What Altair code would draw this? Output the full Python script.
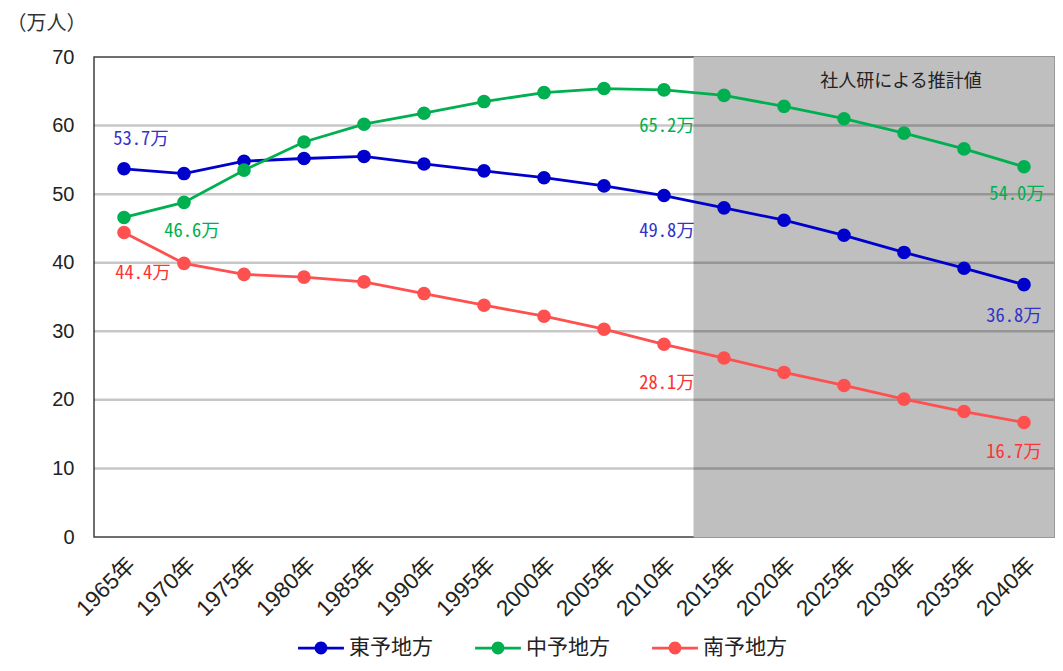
import altair as alt
import pandas as pd

years = ["1965年", "1970年", "1975年", "1980年", "1985年", "1990年", "1995年", "2000年",
         "2005年", "2010年", "2015年", "2020年", "2025年", "2030年", "2035年", "2040年"]
regions = ["東予地方", "中予地方", "南予地方"]
colors = ["#0000CC", "#00B050", "#FF5050"]
label_colors = ["#3333CC", "#00B050", "#FF3333"]

east = [53.7, 53.0, 54.8, 55.2, 55.5, 54.4, 53.4, 52.4, 51.2, 49.8, 48.0, 46.2, 44.0, 41.5, 39.2, 36.8]
central = [46.6, 48.8, 53.5, 57.6, 60.2, 61.8, 63.5, 64.8, 65.4, 65.2, 64.4, 62.8, 61.0, 58.9, 56.6, 54.0]
south = [44.4, 39.9, 38.3, 37.9, 37.2, 35.5, 33.8, 32.2, 30.3, 28.1, 26.1, 24.0, 22.1, 20.1, 18.3, 16.7]

projection_years = years[10:]
grid_values = [10, 20, 30, 40, 50, 60]
annotation = "社人研による推計値"

# labelled points: (region index, year index)
labelled = [(0, 0), (1, 0), (2, 0), (1, 9), (0, 9), (2, 9), (1, 15), (0, 15), (2, 15)]
# label offsets (style)
offsets = [(17, -30), (68, 14), (19, 40), (3, 36), (3, 35), (3, 39), (-7, 27), (-10, 31), (-10, 30)]

series = [east, central, south]
rows = []
for r, vals in zip(regions, series):
    for y, v in zip(years, vals):
        rows.append({"year": y, "region": r, "value": v})
df = pd.DataFrame(rows)

W, H = 960, 480
xscale = alt.Scale(type="band", domain=years, paddingInner=0, paddingOuter=0)
yscale = alt.Scale(domain=[0, 70], nice=False)
cscale = alt.Scale(domain=regions, range=colors)

# line segment (thin filled bar) with a dot in the middle
legend_path = ("M-1,-0.06L1,-0.06L1,0.06L-1,0.06Z"
               "M-0.28,0A0.28,0.28,0,1,1,0.28,0A0.28,0.28,0,1,1,-0.28,0Z")

shade = alt.Chart(pd.DataFrame({"year": projection_years})).mark_rect(
    color="#BFBFBF", stroke="#BFBFBF", strokeWidth=1
).encode(
    x=alt.X("year:N", scale=xscale,
            axis=alt.Axis(title=None, labelAngle=-45, labelFontSize=22.5,
                          labelFont="Liberation Sans, Noto Sans CJK JP", labelColor="#222",
                          labelPadding=16, ticks=False, domain=False, grid=False)),
    y=alt.datum(0, scale=yscale,
                axis=alt.Axis(title="（万人）", titleAngle=0, titleX=-88, titleY=-34,
                              titleAlign="left", titleBaseline="middle", titleFontSize=20,
                              titleFontWeight="normal", titleFont="Noto Sans CJK JP",
                              titleColor="#333", values=[0, 10, 20, 30, 40, 50, 60, 70],
                              labelFontSize=20, labelFont="Liberation Sans", labelColor="#222",
                              labelPadding=20, ticks=False, domain=False, grid=False)),
    y2=alt.datum(70),
)

grid = alt.Chart(pd.DataFrame({"v": grid_values})).mark_rule(
    color="black", opacity=0.22, strokeWidth=2.5
).encode(y=alt.Y("v:Q", scale=yscale))

base = alt.Chart(df).encode(
    x=alt.X("year:N", scale=xscale),
    y=alt.Y("value:Q", scale=yscale),
    color=alt.Color("region:N", scale=cscale, sort=regions,
                    legend=alt.Legend(title=None, orient="none", direction="horizontal",
                                      legendX=204, legendY=568,
                                      symbolType=legend_path, symbolSize=2100,
                                      symbolStrokeWidth=0, labelFontSize=21,
                                      labelFont="Noto Sans CJK JP", labelColor="#222",
                                      columnPadding=42, labelOffset=5)),
)
lines = base.mark_line(strokeWidth=2.8)
points = base.mark_point(filled=True, size=185, opacity=1)

label_layers = []
for (ri, yi), (dx, dy) in zip(labelled, offsets):
    vals = series[ri]
    v = vals[yi]
    ldf = pd.DataFrame({"year": [years[yi]], "value": [v], "text": [f"{v:.1f}万"]})
    label_layers.append(
        alt.Chart(ldf).mark_text(
            dx=dx, dy=dy, fontSize=18.5, color=label_colors[ri],
            font="Noto Sans Mono CJK JP, DejaVu Sans Mono, Noto Sans CJK JP",
        ).encode(x=alt.X("year:N", scale=xscale), y=alt.Y("value:Q", scale=yscale), text="text:N")
    )

note = alt.Chart(pd.DataFrame({"t": [annotation]})).mark_text(
    fontSize=18, font="Noto Sans CJK JP", color="#222", dx=-3
).encode(x=alt.datum("2030年"), y=alt.datum(66.4), text="t:N")

chart = alt.layer(shade, grid, lines, points, *label_layers, note).properties(
    width=W, height=H,
    autosize=alt.AutoSizeParams(type="none"),
    padding={"left": 86, "top": 49, "right": 1, "bottom": 122},
).configure_view(stroke="#404040", strokeWidth=1.5)

chart.save("out.html", embed_options={"renderer": "svg", "actions": False})
